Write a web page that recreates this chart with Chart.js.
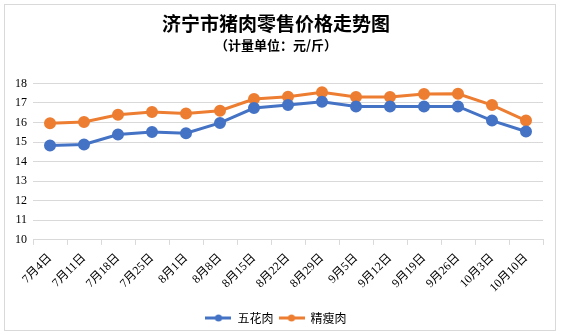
<!DOCTYPE html>
<html>
<head>
<meta charset="utf-8">
<script src="https://cdn.jsdelivr.net/npm/chart.js@4"></script>
<style>
  body { margin: 0; background: #fff; }
  #wrap { width: 561px; height: 336px; }
</style>
</head>
<body>
<div id="wrap"><canvas id="myChart" width="561" height="336"></canvas></div>
<script>
// data
let dates = ['7月4日', '7月11日', '7月18日', '7月25日', '8月1日', '8月8日', '8月15日', '8月22日',
    '8月29日', '9月5日', '9月12日', '9月19日', '9月26日', '10月3日', '10月10日'];
let wuhua = [14.82, 14.88, 15.39, 15.52, 15.45, 15.98, 16.74, 16.89, 17.06, 16.82, 16.82, 16.82, 16.82, 16.1, 15.54];
let jingshou = [15.96, 16.03, 16.4, 16.54, 16.46, 16.6, 17.2, 17.32, 17.55, 17.3, 17.3, 17.46, 17.47, 16.89, 16.1];
let yTicks = [10, 11, 12, 13, 14, 15, 16, 17, 18];

const serif = "'Times New Roman', 'Liberation Serif', 'Noto Sans CJK SC', serif";

// legend marker: short line with a dot, like the original
function legendMarker(color) {
    let c = document.createElement('canvas');
    c.width = 26; c.height = 10;
    let g = c.getContext('2d');
    g.strokeStyle = color;
    g.lineWidth = 3;
    g.beginPath(); g.moveTo(0, 5); g.lineTo(26, 5); g.stroke();
    g.fillStyle = color;
    g.beginPath(); g.arc(13, 5, 3.5, 0, Math.PI * 2); g.fill();
    return c;
}

const frame = {
    id: 'frame',
    beforeDraw(chart) {
        let ctx = chart.ctx;
        ctx.save();
        ctx.fillStyle = '#fff';
        ctx.fillRect(0, 0, chart.width, chart.height);
        ctx.strokeStyle = '#d9d9d9';
        ctx.lineWidth = 1;
        ctx.strokeRect(4.5, 4.5, 551, 326);
        ctx.restore();
    }
};

let blue = '#4472C4';
let orange = '#ED7D31';

let ctx = document.getElementById('myChart').getContext('2d');
let myChart = new Chart(ctx, {
    type: 'line',
    data: {
        labels: dates,
        datasets: [{
            label: '五花肉',
            data: wuhua,
            borderColor: blue,
            backgroundColor: blue,
            borderWidth: 3,
            pointRadius: 4.5,
            pointHoverRadius: 4.5,
            pointBackgroundColor: blue,
            pointBorderColor: blue,
            tension: 0,
            fill: false
        }, {
            label: '精瘦肉',
            data: jingshou,
            borderColor: orange,
            backgroundColor: orange,
            borderWidth: 3,
            pointRadius: 4.5,
            pointHoverRadius: 4.5,
            pointBackgroundColor: orange,
            pointBorderColor: orange,
            tension: 0,
            fill: false
        }]
    },
    options: {
        responsive: false,
        animation: false,
        layout: { padding: { left: 9, right: 18, top: 6, bottom: 2 } },
        plugins: {
            title: {
                display: true,
                text: '济宁市猪肉零售价格走势图',
                color: '#000',
                font: { family: "'Noto Sans CJK SC'", size: 19, weight: 'bold' },
                padding: { top: 6, bottom: 0 }
            },
            subtitle: {
                display: true,
                text: '（计量单位：元/斤）',
                color: '#000',
                font: { family: "'Noto Sans CJK SC'", size: 13, weight: 'bold' },
                padding: { top: 2, bottom: 31 }
            },
            legend: {
                position: 'bottom',
                labels: {
                    usePointStyle: true,
                    pointStyleWidth: 26,
                    color: '#000',
                    font: { family: "'Noto Sans CJK SC'", size: 12 },
                    padding: 5,
                    generateLabels(chart) {
                        return chart.data.datasets.map((ds, i) => ({
                            text: ds.label,
                            fillStyle: ds.borderColor,
                            strokeStyle: ds.borderColor,
                            fontColor: '#000',
                            pointStyle: legendMarker(ds.borderColor),
                            datasetIndex: i,
                            hidden: false
                        }));
                    }
                }
            },
            tooltip: { enabled: false }
        },
        scales: {
            x: {
                offset: true,
                grid: {
                    display: true,
                    offset: true,
                    drawOnChartArea: false,
                    drawTicks: true,
                    tickLength: 5,
                    color: '#d9d9d9'
                },
                border: { color: '#d9d9d9' },
                ticks: {
                    autoSkip: false,
                    minRotation: 45,
                    maxRotation: 45,
                    color: '#000',
                    font: { family: serif, size: 12 },
                    padding: 6
                },
                afterFit(scale) {
                    scale.height += 6;
                }
            },
            y: {
                min: 10,
                max: 18,
                afterBuildTicks(axis) {
                    axis.ticks = yTicks.map(v => ({ value: v }));
                },
                grid: { color: '#d9d9d9', drawTicks: false },
                border: { display: false },
                ticks: {
                    color: '#000',
                    font: { family: serif, size: 12 },
                    padding: 6
                }
            }
        }
    },
    plugins: [frame]
});
</script>
</body>
</html>
